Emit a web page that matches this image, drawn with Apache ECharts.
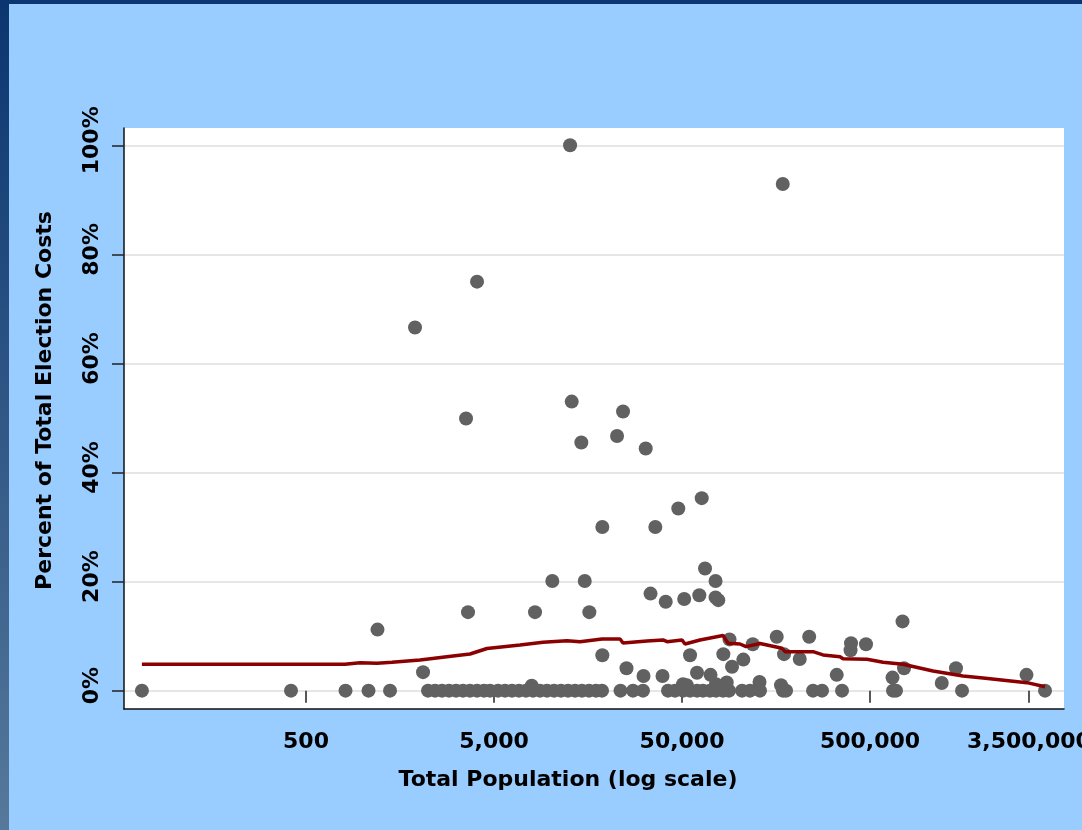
<!DOCTYPE html>
<html>
<head>
<meta charset="utf-8">
<script src="https://cdn.jsdelivr.net/npm/echarts@6/dist/echarts.min.js"></script>
<style>
html,body{margin:0;padding:0;background:#99CCFF;}
#chart{width:1082px;height:830px;}
</style>
</head>
<body>
<div id="chart"></div>
<script>
// ---- data ----
const xTickValues = [500, 5000, 50000, 500000, 3500000];
const yTickValues = [0, 20, 40, 60, 80, 100];

const pointPop = [
  12690, 171700, 4061, 1900, 3549, 12950, 24280, 14570, 22560, 32050,
  63650, 47770, 18840, 36060, 66270, 10210, 15190, 75390, 34000, 40950,
  51360, 61800, 75390, 77930, 3636, 8262, 16070, 1200, 744400, 18840,
  2096, 25330, 31200, 39380, 55160, 60080, 70890, 82940, 89440, 92260,
  105950, 118900, 86460, 129200, 159500, 237400, 174400, 211400, 168100, 332600,
  396200, 393900, 476000, 658600, 758300, 1204000, 1433000, 3399000, 7934, 52970,
  50610, 75850,
  67, 416, 811, 1075, 1399, 2228, 2428, 2645, 2881, 3140,
  3421, 3726, 4061, 4424, 4762, 5251, 5720, 6232, 6792, 7400,
  8063, 8785, 9570, 10430, 11360, 12380, 13490, 14690, 16010, 17440,
  18770, 23540, 27440, 31010, 42120, 45900, 50610, 55160, 60080, 64670,
  70450, 75850, 82640, 88920, 104300, 115000, 129970, 172300, 178800, 248800,
  277800, 354900, 662600, 687500, 1543000, 4265000
];
const pointPct = [
  100, 92.9, 75.0, 66.6, 49.9, 53.0, 51.2, 45.5, 46.7, 44.4,
  35.3, 33.4, 30.0, 30.0, 22.4, 20.1, 20.1, 20.1, 17.8, 16.3,
  16.8, 17.5, 17.1, 16.6, 14.4, 14.4, 14.4, 11.2, 12.7, 6.5,
  3.4, 4.1, 2.7, 2.7, 6.5, 3.3, 2.9, 6.7, 9.4, 4.4,
  5.7, 8.5, 1.5, 1.6, 9.9, 9.9, 6.7, 5.8, 1.0, 2.9,
  8.7, 7.4, 8.5, 2.4, 4.1, 1.4, 4.1, 2.9, 0.9, 1.0,
  1.2, 1.2,
  0, 0, 0, 0, 0, 0, 0, 0, 0, 0,
  0, 0, 0, 0, 0, 0, 0, 0, 0, 0,
  0, 0, 0, 0, 0, 0, 0, 0, 0, 0,
  0, 0, 0, 0, 0, 0, 0, 0, 0, 0,
  0, 0, 0, 0, 0, 0, 0, 0, 0, 0,
  0, 0, 0, 0, 0, 0
];

const linePop = [
  67, 806, 969, 1193, 1433, 2020, 3026, 3726, 4590, 6877,
  9112, 12225, 14332, 18770, 23395, 24275, 32560, 39615, 41600, 50000,
  51880, 62330, 82640, 87850, 101740, 109500, 129970, 170200, 176600, 248800,
  281200, 346300, 359300, 481900, 586400, 748900, 1081400, 1561700, 1995800, 3420000,
  4265000
];
const linePct = [
  4.84, 4.84, 5.13, 5.02, 5.21, 5.63, 6.36, 6.73, 7.74, 8.38,
  8.87, 9.17, 8.98, 9.48, 9.48, 8.75, 9.11, 9.30, 8.98, 9.30,
  8.56, 9.30, 10.12, 8.69, 8.56, 8.07, 8.65, 7.77, 7.15, 7.15,
  6.55, 6.23, 5.87, 5.76, 5.21, 4.84, 3.61, 2.70, 2.33, 1.47,
  0.73
];

const xMin = 53.8, xMax = 5380000;
const yMin = -3.36, yMax = 103.17;

// ---- chart ----
const font = 'DejaVu Sans';
const chart = echarts.init(document.getElementById('chart'), null, {renderer: 'canvas'});

const option = {
  backgroundColor: '#99CCFF',
  animation: false,
  graphic: [
    {type: 'rect', left: 0, top: 0, z: 100,
     shape: {x: 0, y: 0, width: 1082, height: 4},
     style: {fill: '#0B3672'}},
    {type: 'rect', left: 0, top: 0, z: 100,
     shape: {x: 0, y: 0, width: 9, height: 830},
     style: {fill: new echarts.graphic.LinearGradient(0, 0, 0, 1, [
       {offset: 0, color: '#0A3570'},
       {offset: 1, color: '#56799B'}
     ])}}
  ],
  grid: {
    left: 124, right: 18, top: 128, bottom: 121,
    containLabel: false, outerBoundsMode: 'none',
    show: true, backgroundColor: '#ffffff', borderWidth: 0
  },
  xAxis: [
    {
      type: 'log', logBase: 10, min: xMin, max: xMax,
      axisLine: {show: true, onZero: false, lineStyle: {color: '#111', width: 1.5}},
      axisTick: {show: false}, axisLabel: {show: false},
      splitLine: {show: false}, minorTick: {show: false}, minorSplitLine: {show: false}
    },
    {
      type: 'value', position: 'bottom',
      min: Math.log10(xMin), max: Math.log10(xMax),
      axisLine: {show: false},
      axisTick: {show: true, length: 12, customValues: xTickValues.map(Math.log10),
                 lineStyle: {color: '#222', width: 1.5}},
      axisLabel: {
        customValues: xTickValues.map(Math.log10),
        margin: 22,
        formatter: v => Math.round(Math.pow(10, v)).toLocaleString('en-US'),
        color: '#000', fontFamily: font, fontWeight: 'bold', fontSize: 22
      },
      splitLine: {show: false},
      name: 'Total Population (log scale)',
      nameLocation: 'middle', nameGap: 60,
      nameTextStyle: {color: '#000', fontFamily: font, fontWeight: 'bold', fontSize: 22,
                      padding: [0, 52, 0, 0]}
    }
  ],
  yAxis: {
    type: 'value', min: yMin, max: yMax,
    axisLine: {show: true, onZero: false, lineStyle: {color: '#111', width: 1.5}},
    axisTick: {show: true, length: 12, customValues: yTickValues,
               lineStyle: {color: '#222', width: 1.5}},
    axisLabel: {
      customValues: yTickValues, rotate: 90, margin: 21,
      formatter: '{value}%', padding: [0, 0, 0, 10],
      color: '#000', fontFamily: font, fontWeight: 'bold', fontSize: 22
    },
    splitLine: {show: true, lineStyle: {color: '#e6e6e6', width: 2}},
    name: 'Percent of Total Election Costs',
    nameLocation: 'middle', nameGap: 68,
    nameTextStyle: {color: '#000', fontFamily: font, fontWeight: 'bold', fontSize: 22,
                    padding: [0, 0, 0, 36]}
  },
  series: [
    {
      type: 'scatter', xAxisIndex: 0, yAxisIndex: 0,
      symbol: 'circle', symbolSize: 14,
      itemStyle: {color: '#616161', opacity: 1},
      data: pointPop.map((p, i) => [p, pointPct[i]]),
      z: 2
    },
    {
      type: 'line', xAxisIndex: 0, yAxisIndex: 0,
      showSymbol: false, symbol: 'none',
      lineStyle: {color: '#8B0000', width: 3.5},
      data: linePop.map((p, i) => [p, linePct[i]]),
      z: 3
    }
  ]
};
chart.setOption(option);
</script>
</body>
</html>
